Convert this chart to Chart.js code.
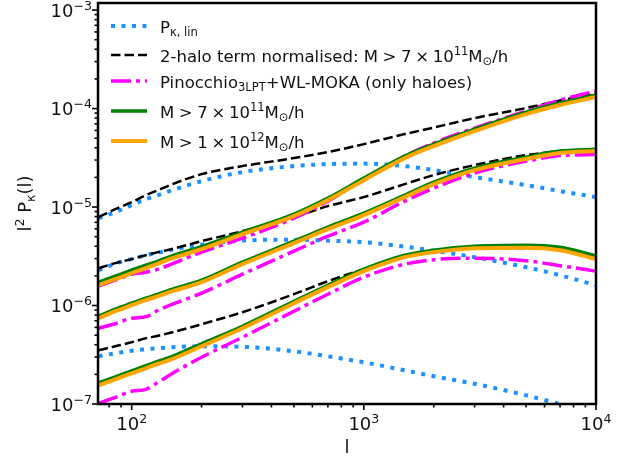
<!DOCTYPE html>
<html>
<head>
<meta charset="utf-8">
<script src="https://cdn.jsdelivr.net/npm/chart.js@4.4.1/dist/chart.umd.min.js"></script>
<style>
  html, body { margin: 0; padding: 0; background: #fff; }
  #wrap { width: 643px; height: 459px; }
</style>
</head>
<body>
<div id="wrap"><canvas id="chart" width="643" height="459"></canvas></div>
<script>
// multipoles the curves were read at
var ell = [72, 85, 100, 115, 130, 150, 200, 300, 500, 700, 1000, 1500, 2000, 3000, 5000, 7000, 10000];

// upper set
var linA   = [7.71e-6, 8.87e-6, 1.045e-5, 1.203e-5, 1.321e-5, 1.486e-5, 1.833e-5, 2.264e-5, 2.606e-5, 2.729e-5, 2.761e-5, 2.606e-5, 2.371e-5, 2.014e-5, 1.671e-5, 1.452e-5, 1.262e-5];
var haloA  = [7.89e-6, 9.52e-6, 1.122e-5, 1.321e-5, 1.486e-5, 1.710e-5, 2.158e-5, 2.606e-5, 3.14e-5, 3.614e-5, 4.355e-5, 5.508e-5, 6.412e-5, 8.0e-5, 1.012e-4, 1.205e-4, 1.419e-4];
var pinoA  = [1.571e-6, 1.807e-6, 2.080e-6, 2.178e-6, 2.339e-6, 2.661e-6, 3.483e-6, 4.83e-6, 7.71e-6, 1.148e-5, 1.923e-5, 3.289e-5, 4.457e-5, 6.34e-5, 9.44e-5, 1.219e-4, 1.507e-4];
var m7A    = [1.726e-6, 1.986e-6, 2.286e-6, 2.570e-6, 2.818e-6, 3.206e-6, 3.963e-6, 5.559e-6, 8.47e-6, 1.231e-5, 1.968e-5, 3.289e-5, 4.355e-5, 6.194e-5, 9.21e-5, 1.137e-4, 1.371e-4];
var m12A   = [1.607e-6, 1.849e-6, 2.128e-6, 2.393e-6, 2.661e-6, 3.027e-6, 3.733e-6, 5.305e-6, 8.09e-6, 1.175e-5, 1.876e-5, 3.14e-5, 4.159e-5, 5.902e-5, 8.79e-5, 1.086e-4, 1.309e-4];

// middle set
var linB   = [2.286e-6, 2.661e-6, 2.958e-6, 3.243e-6, 3.443e-6, 3.690e-6, 4.150e-6, 4.56e-6, 4.667e-6, 4.56e-6, 4.40e-6, 3.963e-6, 3.606e-6, 3.097e-6, 2.449e-6, 2.032e-6, 1.607e-6];
var haloB  = [2.393e-6, 2.692e-6, 2.958e-6, 3.243e-6, 3.483e-6, 3.761e-6, 4.50e-6, 5.69e-6, 7.89e-6, 1.021e-5, 1.262e-5, 1.710e-5, 2.109e-5, 2.667e-5, 3.367e-5, 3.698e-5, 3.873e-5];
var pinoB  = [5.88e-7, 6.53e-7, 7.43e-7, 7.69e-7, 8.96e-7, 1.031e-6, 1.334e-6, 2.080e-6, 3.565e-6, 5.06e-6, 7.03e-6, 1.148e-5, 1.556e-5, 2.213e-5, 2.927e-5, 3.327e-5, 3.41e-5];
var m7B    = [7.79e-7, 9.17e-7, 1.055e-6, 1.186e-6, 1.303e-6, 1.465e-6, 1.807e-6, 2.754e-6, 4.50e-6, 6.25e-6, 8.67e-6, 1.321e-5, 1.791e-5, 2.484e-5, 3.214e-5, 3.698e-5, 3.873e-5];
var m12B   = [7.43e-7, 8.75e-7, 1.007e-6, 1.132e-6, 1.244e-6, 1.397e-6, 1.726e-6, 2.630e-6, 4.30e-6, 5.96e-6, 8.28e-6, 1.262e-5, 1.710e-5, 2.371e-5, 3.069e-5, 3.532e-5, 3.698e-5];

// lower set
var linC   = [3.05e-7, 3.275e-7, 3.47e-7, 3.597e-7, 3.68e-7, 3.77e-7, 3.857e-7, 3.81e-7, 3.43e-7, 3.05e-7, 2.65e-7, 2.2e-7, 1.913e-7, 1.604e-7, 1.225e-7, 9.97e-8, 7.86e-8];
var haloC  = [3.51e-7, 3.857e-7, 4.236e-7, 4.65e-7, 4.93e-7, 5.35e-7, 6.46e-7, 8.55e-7, 1.303e-6, 1.766e-6, 2.339e-6, 3.17e-6, 3.565e-6, 3.82e-6, 3.82e-6, 3.648e-6, 3.097e-6];
var pinoC  = [1.016e-7, 1.17e-7, 1.346e-7, 1.41e-7, 1.663e-7, 2.051e-7, 2.985e-7, 4.76e-7, 8.75e-7, 1.303e-6, 1.94e-6, 2.630e-6, 2.92e-6, 3.027e-6, 2.851e-6, 2.537e-6, 2.233e-6];
var m7C    = [1.642e-7, 1.888e-7, 2.175e-7, 2.445e-7, 2.716e-7, 3.05e-7, 4.09e-7, 6.16e-7, 1.106e-6, 1.607e-6, 2.339e-6, 3.243e-6, 3.648e-6, 4.0e-6, 4.10e-6, 3.913e-6, 3.206e-6];
var m12C   = [1.549e-7, 1.782e-7, 2.051e-7, 2.305e-7, 2.563e-7, 2.879e-7, 3.857e-7, 5.88e-7, 1.055e-6, 1.535e-6, 2.233e-6, 3.097e-6, 3.483e-6, 3.82e-6, 3.865e-6, 3.648e-6, 2.958e-6];

var xMajor = [100, 1000, 10000];
var xMajorExp = ['2', '3', '4'];
var yMajor = [1e-7, 1e-6, 1e-5, 1e-4, 1e-3];
var yMajorExp = ['\u22127', '\u22126', '\u22125', '\u22124', '\u22123'];

var FONT = '"DejaVu Sans"';
var INK = '#111';

var styles = {
  lin:  { color: '#1E90FF', width: 4,   dash: [4, 6.5],        order: 4 },
  halo: { color: '#000000', width: 2.5, dash: [9.5, 4],        order: 3 },
  pino: { color: '#FF00FF', width: 3.5, dash: [20, 5, 4, 5],   order: 2 },
  m7:   { color: '#008000', width: 3.5, dash: [],              order: 1 },
  m12:  { color: '#FFA500', width: 4,   dash: [],              order: 0 }
};

// g = gap in em (mathtext spacing around relations / binary operators)
var legendRows = [
  { key: 'lin',  runs: [{ t: 'P' }, { t: '\u03ba, lin', s: 'sub' }] },
  { key: 'halo', runs: [{ t: '2-halo term normalised: M' }, { g: 0.278 }, { t: '>' }, { g: 0.278 }, { t: '7' }, { g: 0.222 }, { t: '\u00d7' }, { g: 0.222 }, { t: '10' }, { t: '11', s: 'sup' }, { t: 'M' }, { t: '\u2299', s: 'sub' }, { t: '/h' }] },
  { key: 'pino', runs: [{ t: 'Pinocchio' }, { t: '3LPT', s: 'sub' }, { t: '+WL-MOKA (only haloes)' }] },
  { key: 'm7',   runs: [{ t: 'M' }, { g: 0.278 }, { t: '>' }, { g: 0.278 }, { t: '7' }, { g: 0.222 }, { t: '\u00d7' }, { g: 0.222 }, { t: '10' }, { t: '11', s: 'sup' }, { t: 'M' }, { t: '\u2299', s: 'sub' }, { t: '/h' }] },
  { key: 'm12',  runs: [{ t: 'M' }, { g: 0.278 }, { t: '>' }, { g: 0.278 }, { t: '1' }, { g: 0.222 }, { t: '\u00d7' }, { g: 0.222 }, { t: '10' }, { t: '12', s: 'sup' }, { t: 'M' }, { t: '\u2299', s: 'sub' }, { t: '/h' }] }
];
var legendY = [26, 55, 81, 111, 141];

function pts(arr) {
  return ell.map(function (l, i) { return { x: l, y: arr[i] }; });
}

function makeSet(key, arr) {
  var st = styles[key];
  return {
    data: pts(arr),
    borderColor: st.color,
    borderWidth: st.width,
    borderDash: st.dash,
    borderCapStyle: 'butt',
    pointRadius: 0,
    fill: false,
    cubicInterpolationMode: 'monotone',
    order: st.order
  };
}

var datasets = [
  makeSet('lin', linA), makeSet('halo', haloA), makeSet('pino', pinoA), makeSet('m7', m7A), makeSet('m12', m12A),
  makeSet('lin', linB), makeSet('halo', haloB), makeSet('pino', pinoB), makeSet('m7', m7B), makeSet('m12', m12B),
  makeSet('lin', linC), makeSet('halo', haloC), makeSet('pino', pinoC), makeSet('m7', m7C), makeSet('m12', m12C)
];

function runW(ctx, r, size) {
  if (r.g) return r.g * size;
  ctx.font = (r.s ? size * 0.7 : size) + 'px ' + FONT;
  return ctx.measureText(r.t).width;
}

function drawRuns(ctx, runs, x, y, size, align) {
  var w = 0;
  runs.forEach(function (r) { w += runW(ctx, r, size); });
  var cx = align === 'center' ? x - w / 2 : (align === 'right' ? x - w : x);
  ctx.textAlign = 'left';
  ctx.textBaseline = 'alphabetic';
  runs.forEach(function (r) {
    if (!r.g) {
      var dy = r.s === 'sup' ? -size * 0.38 : (r.s === 'sub' ? size * 0.22 : 0);
      ctx.font = (r.s ? size * 0.7 : size) + 'px ' + FONT;
      ctx.fillText(r.t, cx, y + dy);
    }
    cx += runW(ctx, r, size);
  });
  return w;
}

var decorPlugin = {
  id: 'decor',
  afterDraw: function (chart) {
    var ctx = chart.ctx;
    var a = chart.chartArea;
    var xs = chart.scales.x, ys = chart.scales.y;
    ctx.save();

    // frame
    ctx.strokeStyle = '#000';
    ctx.lineWidth = 2.5;
    ctx.setLineDash([]);
    ctx.strokeRect(a.left, a.top, a.right - a.left, a.bottom - a.top);

    // tick marks
    ctx.lineWidth = 1.6;
    var d, m, v, p;
    for (d = 1; d <= 4; d++) {
      for (m = 1; m <= 9; m++) {
        v = m * Math.pow(10, d);
        if (v < xs.min || v > xs.max) continue;
        p = xs.getPixelForValue(v);
        ctx.beginPath();
        ctx.moveTo(p, a.bottom);
        ctx.lineTo(p, a.bottom + (m === 1 ? 6 : 3.5));
        ctx.stroke();
      }
    }
    for (d = -7; d <= -3; d++) {
      for (m = 1; m <= 9; m++) {
        v = m * Math.pow(10, d);
        if (v < ys.min || v > ys.max) continue;
        p = ys.getPixelForValue(v);
        ctx.beginPath();
        ctx.moveTo(a.left, p);
        ctx.lineTo(a.left - (m === 1 ? 6 : 3.5), p);
        ctx.stroke();
      }
    }

    // tick labels
    ctx.fillStyle = INK;
    xMajor.forEach(function (v, i) {
      drawRuns(ctx, [{ t: '10' }, { t: xMajorExp[i], s: 'sup' }], xs.getPixelForValue(v), 430, 18, 'center');
    });
    yMajor.forEach(function (v, i) {
      drawRuns(ctx, [{ t: '10' }, { t: yMajorExp[i], s: 'sup' }], a.left - 6, ys.getPixelForValue(v) + 6.5, 18, 'right');
    });

    // axis labels
    drawRuns(ctx, [{ t: 'l' }], (a.left + a.right) / 2, 453, 18, 'center');
    ctx.save();
    ctx.translate(31, (a.top + a.bottom) / 2);
    ctx.rotate(-Math.PI / 2);
    drawRuns(ctx, [{ t: 'l' }, { t: '2', s: 'sup' }, { t: ' P' }, { t: '\u03ba', s: 'sub' }, { t: '(l)' }], 0, 0, 18, 'center');
    ctx.restore();

    // legend
    legendRows.forEach(function (row, i) {
      var st = styles[row.key];
      var y = legendY[i];
      ctx.strokeStyle = st.color;
      ctx.lineWidth = st.width;
      ctx.setLineDash(st.dash);
      ctx.lineCap = 'butt';
      ctx.beginPath();
      ctx.moveTo(111, y);
      ctx.lineTo(147, y);
      ctx.stroke();
      ctx.setLineDash([]);
      ctx.fillStyle = INK;
      drawRuns(ctx, row.runs, 160, y + 6.5, 16.5, 'left');
    });

    ctx.restore();
  }
};

new Chart(document.getElementById('chart'), {
  type: 'line',
  data: { datasets: datasets },
  options: {
    responsive: false,
    animation: false,
    devicePixelRatio: 1,
    layout: { padding: { left: 0, top: 3, right: 47, bottom: 0 } },
    plugins: { legend: { display: false }, tooltip: { enabled: false } },
    scales: {
      x: {
        type: 'logarithmic', min: 71.6, max: 10000,
        ticks: { display: false }, grid: { display: false }, border: { display: false },
        afterFit: function (s) { s.height = 55; }
      },
      y: {
        type: 'logarithmic', min: 1e-7, max: 1.18e-3,
        ticks: { display: false }, grid: { display: false }, border: { display: false },
        afterFit: function (s) { s.width = 98; }
      }
    }
  },
  plugins: [decorPlugin]
});
</script>
</body>
</html>
